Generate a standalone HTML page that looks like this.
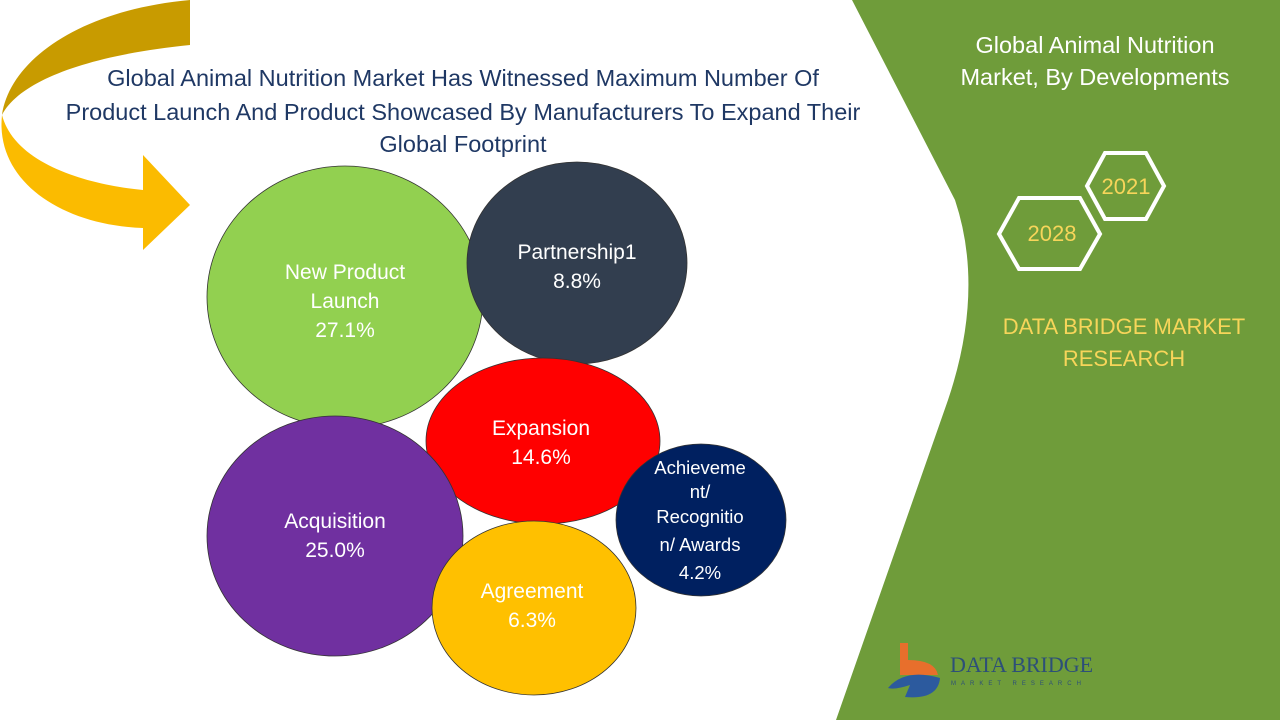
<!DOCTYPE html>
<html><head><style>
body{margin:0;width:1280px;height:720px;overflow:hidden;background:#fff;font-family:"Liberation Sans",sans-serif;}
</style></head><body>
<svg width="1280" height="720" xmlns="http://www.w3.org/2000/svg" style="position:absolute;left:0;top:0">
<path d="M852,0 L1280,0 L1280,720 L836,720 L948,400 Q985,290 955,200 Z" fill="#6f9c3a"/>
<path d="M190,0 L190,45 C90,55 20,80 2,115 C10,60 80,10 190,0 Z" fill="#c89b00"/>
<path d="M2,115 C15,165 90,185 143,190 L143,155 L190,205 L143,250 L143,228 C60,225 -5,180 2,115 Z" fill="#fbbb00"/>
<g font-size="23.5" fill="#1f3864" text-anchor="middle">
<text x="463" y="86">Global Animal Nutrition Market Has Witnessed Maximum Number Of</text>
<text x="463" y="120">Product Launch And Product Showcased By Manufacturers To Expand Their</text>
<text x="463" y="152">Global Footprint</text>
</g>
<g stroke="#333" stroke-width="0.8">
<ellipse cx="345" cy="297" rx="138" ry="131" fill="#92d050"/>
<ellipse cx="577" cy="263" rx="110" ry="101" fill="#323e4f"/>
<ellipse cx="543" cy="441" rx="117" ry="83" fill="#ff0000"/>
<ellipse cx="335" cy="536" rx="128" ry="120" fill="#7030a0"/>
<ellipse cx="534" cy="608" rx="102" ry="87" fill="#ffc000"/>
<ellipse cx="701" cy="520" rx="85" ry="76" fill="#002060"/>
</g>
<g font-size="21" fill="#fff" text-anchor="middle">
<text x="345" y="279">New Product</text><text x="345" y="308">Launch</text><text x="345" y="337">27.1%</text>
<text x="577" y="259">Partnership1</text><text x="577" y="288">8.8%</text>
<text x="541" y="435">Expansion</text><text x="541" y="464">14.6%</text>
<text x="335" y="528">Acquisition</text><text x="335" y="557">25.0%</text>
<text x="532" y="598">Agreement</text><text x="532" y="627">6.3%</text>
</g>
<g font-size="18.5" fill="#fff" text-anchor="middle">
<text x="700" y="474">Achieveme</text><text x="700" y="498">nt/</text><text x="700" y="523">Recognitio</text><text x="700" y="551">n/ Awards</text><text x="700" y="579">4.2%</text>
</g>
<g font-size="23.5" fill="#fff" text-anchor="middle">
<text x="1095" y="53">Global Animal Nutrition</text>
<text x="1095" y="85">Market, By Developments</text>
</g>
<g fill="none" stroke="#fff" stroke-width="4">
<polygon points="1087,186 1105,153 1146,153 1164,186 1146,219 1105,219"/>
<polygon points="999,234 1019,198 1080,198 1100,234 1080,269 1019,269"/>
</g>
<g font-size="22" fill="#f7d55a" text-anchor="middle">
<text x="1126" y="194">2021</text>
<text x="1052" y="241">2028</text>
<text x="1124" y="334">DATA BRIDGE MARKET</text>
<text x="1124" y="366">RESEARCH</text>
</g>
<path d="M900,643 L908,643 L908,660 Q935,660 938,675 L900,675 Z" fill="#e86f2c"/>
<path d="M888,688 Q905,668 940,678 Q938,700 905,697 L910,685 Q895,690 888,688 Z" fill="#2c5a9e"/>
<text x="950" y="672" font-size="22" fill="#2d4f78" font-family="Liberation Serif">DATA BRIDGE</text>
<text x="951" y="685" font-size="6" fill="#2d4f78" letter-spacing="5">MARKET RESEARCH</text>
</svg>
</body></html>
